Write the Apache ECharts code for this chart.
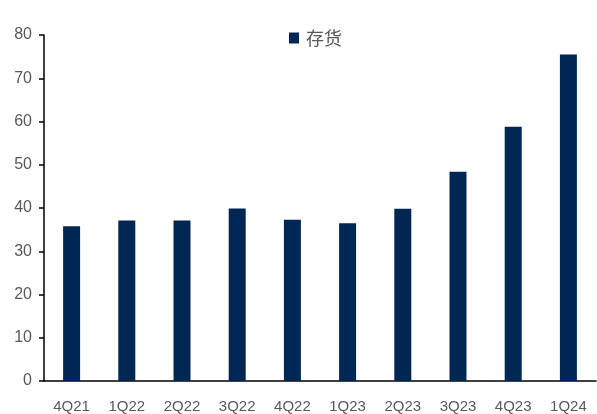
<!DOCTYPE html>
<html>
<head>
<meta charset="utf-8">
<script src="https://cdn.jsdelivr.net/npm/echarts@6/dist/echarts.min.js"></script>
<style>
  html, body { margin: 0; padding: 0; background: #fff; }
  #chart { width: 597px; height: 414px; }
</style>
</head>
<body>
<div id="chart"></div>
<script>
// Quarterly inventory values
const quarters = ['4Q21', '1Q22', '2Q22', '3Q22', '4Q22', '1Q23', '2Q23', '3Q23', '4Q23', '1Q24'];
const inventory = [35.8, 37.1, 37.1, 39.9, 37.3, 36.5, 39.8, 48.4, 58.8, 75.5];
const seriesName = '存货';

const textColor = '#595959';
const barColor = '#002654';

const chart = echarts.init(document.getElementById('chart'));
chart.setOption({
  animation: false,
  textStyle: { fontFamily: 'Liberation Sans, Arial, sans-serif' },
  legend: {
    data: [seriesName],
    left: 284,
    top: 24,
    icon: 'rect',
    itemWidth: 10,
    itemHeight: 11,
    itemGap: 6,
    textStyle: { fontSize: 18, color: textColor, fontFamily: 'Noto Sans CJK SC, sans-serif', padding: [0, 0, 0, 2] }
  },
  grid: { left: 44, right: 1, top: 35, bottom: 31.5 },
  xAxis: {
    type: 'category',
    data: quarters,
    axisLine: { lineStyle: { color: '#000', width: 1.5 } },
    axisTick: { alignWithLabel: false, length: 6, lineStyle: { color: '#000', width: 1.5 } },
    axisLabel: { fontSize: 15, color: textColor, margin: 18, interval: 0 }
  },
  yAxis: {
    type: 'value',
    min: 0,
    max: 80,
    interval: 10,
    splitLine: { show: false },
    axisLine: { show: true, lineStyle: { color: '#000', width: 1.5 } },
    axisTick: { show: true, length: 5, lineStyle: { color: '#000', width: 1.5 } },
    axisLabel: { fontSize: 16, color: textColor, margin: 12 }
  },
  series: [{
    name: seriesName,
    type: 'bar',
    data: inventory,
    barWidth: 17,
    itemStyle: { color: barColor }
  }]
});
</script>
</body>
</html>
